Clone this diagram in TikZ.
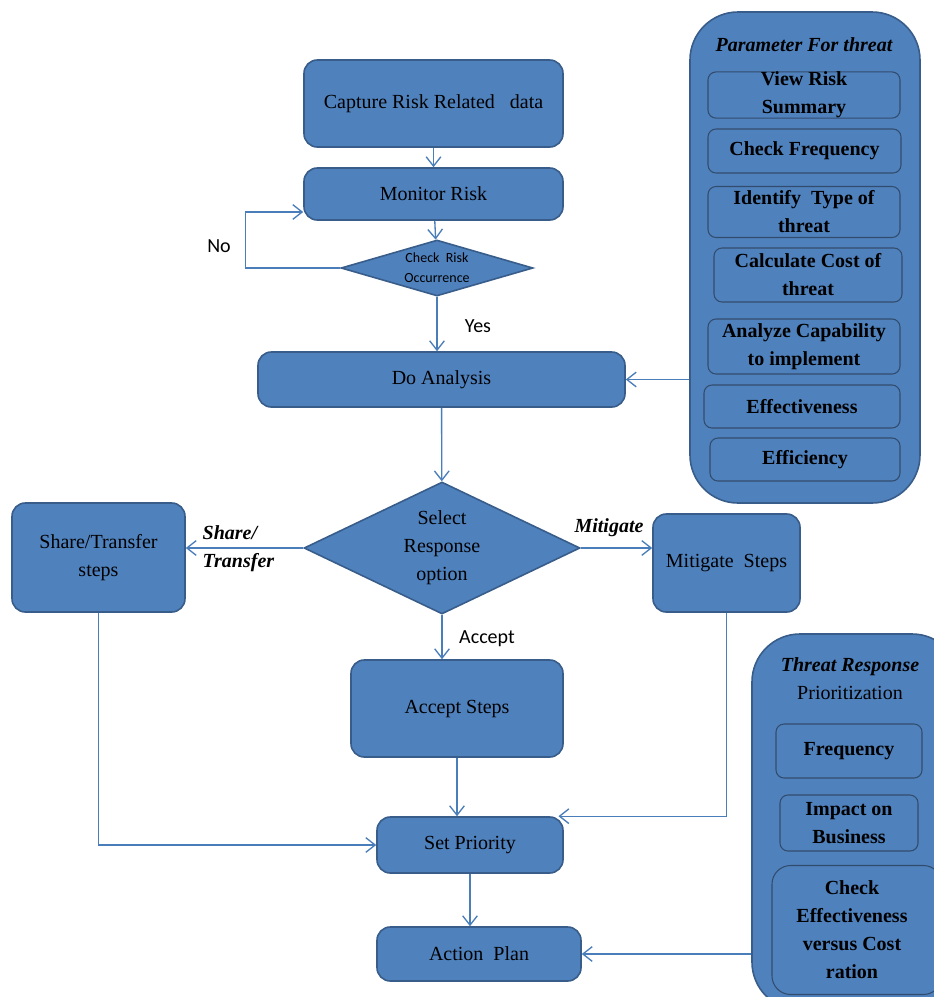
\documentclass[tikz,border=0pt]{standalone}
\usepackage{fontspec}
\setmainfont{Liberation Serif}
\newfontfamily\labelfont{Carlito}
\usetikzlibrary{shapes.geometric,arrows.meta}

\definecolor{boxblue}{RGB}{79,129,189}
\definecolor{edgeblue}{RGB}{56,93,138}
\definecolor{itemline}{RGB}{50,76,110}
\definecolor{linkblue}{RGB}{74,126,187}

\tikzset{
  stepbox/.style={draw=edgeblue, fill=boxblue, line width=1.2pt, rounded corners=10pt,
    align=center, inner sep=0pt, font=\fontsize{15}{21}\selectfont},
  choice/.style={diamond, draw=edgeblue, fill=boxblue, line width=1.2pt,
    align=center, inner sep=0pt, font=\fontsize{15}{21}\selectfont},
  panel/.style={draw=edgeblue, fill=boxblue, line width=1.2pt, rounded corners=36pt},
  item/.style={draw=itemline, fill=boxblue, line width=0.8pt, rounded corners=6pt,
    align=center, inner sep=0pt, font=\bfseries\fontsize{15}{21}\selectfont},
  link/.style={draw=linkblue, line width=1pt, -{Straight Barb[length=7pt,width=11pt]}},
  tag/.style={font=\labelfont\fontsize{15}{18}\selectfont},
  edgetag/.style={font=\bfseries\itshape\fontsize{15}{21}\selectfont, align=left},
}

\begin{document}
\begin{tikzpicture}[x=0.75pt,y=-0.75pt]
\useasboundingbox (0,0) rectangle (934,997);
\fill[white] (0,0) rectangle (934,997);
\clip (0,0) rectangle (934,997);

% main flow
\node[stepbox, minimum width=194.25pt, minimum height=65.25pt] (cap) at (433.5,103.5) {Capture Risk Related \ \ data};
\node[stepbox, minimum width=194.25pt, minimum height=39pt] (mon) at (433.5,194) {Monitor Risk};
\node[choice, shape aspect=3.4, minimum width=144pt, minimum height=42pt,
  font=\labelfont\fontsize{10.5}{15}\selectfont] (chk) at (437,268) {Check \ Risk\\Occurrence};
\node[stepbox, minimum width=275.25pt, minimum height=41.25pt] (da) at (441.5,379.5) {Do Analysis};
\node[choice, shape aspect=2.09, minimum width=207pt, minimum height=99pt] (sel) at (442,548) {Select\\Response\\option};
\node[stepbox, minimum width=129.75pt, minimum height=81.75pt] (share) at (98.5,557.5) {Share/Transfer\\steps};
\node[stepbox, minimum width=110.25pt, minimum height=73.5pt] (mit) at (726.5,563) {Mitigate \ Steps};
\node[stepbox, minimum width=159pt, minimum height=72.75pt] (acc) at (457,708.5) {Accept Steps};
\node[stepbox, minimum width=139.5pt, minimum height=42pt] (setp) at (470,845) {Set Priority};
\node[stepbox, minimum width=153pt, minimum height=40.5pt] (plan) at (479,954) {Action \ Plan};

% parameters panel
\node[panel, minimum width=172.5pt, minimum height=368.25pt] (param) at (805,257.5) {};
\node[edgetag, align=center] (paramtitle) at (804,45) {Parameter For threat};
\node[item, minimum width=144pt, minimum height=33pt] (vrs) at (804,95) {View Risk\\Summary};
\node[item, minimum width=144.75pt, minimum height=33pt] (cf) at (804.5,151) {Check Frequency};
\node[item, minimum width=144pt, minimum height=38.25pt] (itt) at (804,212) {Identify \ Type of\\threat};
\node[item, minimum width=141pt, minimum height=40.5pt] (cct) at (808,275) {Calculate Cost of\\threat};
\node[item, minimum width=144pt, minimum height=41.25pt] (acap) at (804,346.5) {Analyze Capability\\to implement};
\node[item, minimum width=147pt, minimum height=32.25pt] (eff) at (802,406.5) {Effectiveness};
\node[item, minimum width=142.5pt, minimum height=32.25pt] (effi) at (805,459.5) {Efficiency};

% response panel
\node[panel, minimum width=156pt, minimum height=282pt] (resp) at (856,822) {};
\node[align=center, font=\fontsize{15}{21}\selectfont] (resptitle) at (850,679) {\textbf{\textit{Threat Response}}\\Prioritization};
\node[item, minimum width=109.5pt, minimum height=40.5pt] (freq) at (849,751) {Frequency};
\node[item, minimum width=103.5pt, minimum height=42pt] (imp) at (849,823) {Impact on\\Business};
\node[item, minimum width=127.5pt, minimum height=96.75pt, rounded corners=14pt] (cev) at (857,930) {};
\node[font=\bfseries\fontsize{15}{21}\selectfont, align=center] (cevtext) at (852,929.5) {Check\\Effectiveness\\versus Cost\\ration};

% connectors
\draw[link] (cap) -- (mon);
\draw[link] (mon) -- (chk);
\draw[link] (chk.west) -- ++(-95,0) |- ([yshift=-13.5pt]mon.west);
\draw[link] (chk.south) -- (chk.south |- da.north);
\draw[link] (da) -- (sel);
\draw[link] (param.west |- da.east) -- (da.east);
\draw[link] (sel.west) -- (share.east |- sel.west);
\draw[link] (sel.east) -- (mit.west |- sel.east);
\draw[link] (sel.south) -- (sel.south |- acc.north);
\draw[link] (acc.south) -- (acc.south |- setp.north);
\draw[link] (share.south) |- (setp.west);
\draw[link] (mit.south) |- ([xshift=-4pt]setp.north east);
\draw[link] (setp.south) -- (setp.south |- plan.north);
\draw[link] (resp.west |- plan.east) -- (plan.east);

% branch labels
\node[tag] (no) at (219,246) {No};
\node[tag] (yes) at (478,326) {Yes};
\node[tag] (accept) at (487,639) {Accept};
\node[edgetag, anchor=west] (sharetag) at (198,549) {Share/\\Transfer};
\node[edgetag] (mittag) at (609,528) {Mitigate};
\end{tikzpicture}
\end{document}
